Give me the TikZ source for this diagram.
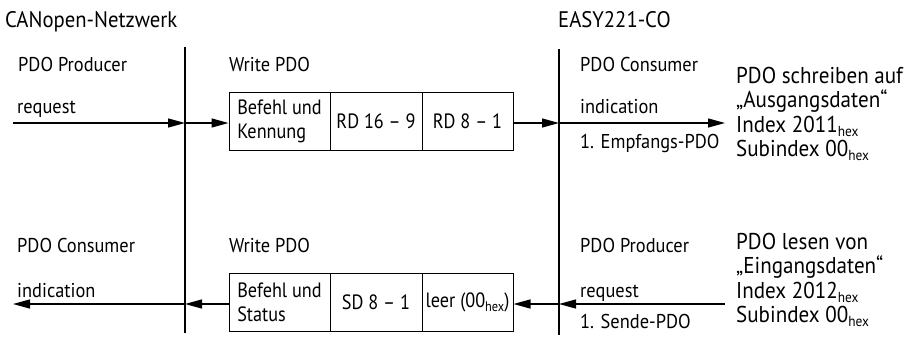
\documentclass[tikz,border=0pt]{standalone}
\usepackage{fontspec}
\setmainfont{PT Sans}
\newfontfamily\condA{PT Sans}[FakeStretch=0.92]
\newfontfamily\condB{PT Sans}[FakeStretch=0.88]
\usetikzlibrary{arrows.meta}
\newcommand\bighex{\raisebox{-4pt}{\fontsize{14.5}{14.5}\selectfont hex}}
\newcommand\boxhex{\raisebox{-3.5pt}{\fontsize{14}{14}\selectfont hex}}
\begin{document}
\begin{tikzpicture}[x=1pt,y=-1pt,
  lbl/.style={anchor=base west, inner sep=0pt, font=\condA\fontsize{20}{22}\selectfont},
  ttl/.style={anchor=base west, inner sep=0pt, font=\condA\fontsize{22.5}{24}\selectfont},
  big/.style={anchor=north west, inner sep=0pt, align=left, font=\condA\fontsize{22.9}{24.3}\selectfont},
  cell/.style={draw, line width=1pt, minimum height=58pt, inner sep=0pt, align=left, font=\condB\fontsize{20.7}{24}\selectfont},
  bus/.style={line width=2pt},
  flow/.style={line width=1.3pt, -{Triangle[length=17pt,width=9pt]}},
]
\useasboundingbox (0,0) rectangle (911,346);

% titles
\node[ttl] (tnet) at (5,27) {CANopen-Netzwerk};
\node[ttl] (tdev) at (558,27) {EASY221-CO};

% bus lines
\coordinate (b1t) at (185,47);
\coordinate (b1b) at (185,333);
\coordinate (b2t) at (559,49);
\coordinate (b2b) at (559,335);
\draw[bus] (b1t) -- (b1b);
\draw[bus] (b2t) -- (b2b);

% upper row labels
\node[lbl] (uprod) at (18,71) {PDO Producer};
\node[lbl] (uwrite) at (229,71) {Write PDO};
\node[lbl] (ucons) at (580,71) {PDO Consumer};
\node[lbl] (ureq) at (17,113) {request};
\node[lbl] (uind) at (580,113) {indication};
\node[lbl] (uemp) at (580,148) {1. Empfangs-PDO};

% upper frame
\node[cell, minimum width=101pt] (c1) at (279.5,121) {Befehl und\\Kennung};
\node[cell, minimum width=92pt] (c2) at (376,121) {RD 16 – 9};
\node[cell, minimum width=91pt] (c3) at (467.5,121) {RD 8 – 1};

\node[big] (utxt) at (736,67) {PDO schreiben auf\\„Ausgangsdaten“\\Index 2011\bighex\\Subindex 00\bighex};

% upper arrows
\coordinate (uin) at (13,123);
\coordinate (u1) at (185,123);
\coordinate (u2) at (559,123);
\coordinate (uout) at (725,123);
\draw[flow] (uin) -- (u1);
\draw[flow] (u1) -- (u1 -| c1.west);
\draw[flow] (u2 -| c3.east) -- (u2);
\draw[flow] (u2) -- (uout);

% lower row labels
\node[lbl] (lcons) at (17,252) {PDO Consumer};
\node[lbl] (lwrite) at (229,252) {Write PDO};
\node[lbl] (lprod) at (580,252) {PDO Producer};
\node[lbl] (lind) at (17,297) {indication};
\node[lbl] (lreq) at (580,297) {request};
\node[lbl] (lsend) at (580,328) {1. Sende-PDO};

% lower frame
\node[cell, minimum width=101pt] (c4) at (279.5,302.5) {Befehl und\\Status};
\node[cell, minimum width=92pt] (c5) at (376,302.5) {SD 8 – 1};
\node[cell, minimum width=91pt] (c6) at (467.5,302.5) {leer (00\boxhex)};

\node[big] (ltxt) at (736,233) {PDO lesen von\\„Eingangsdaten“\\Index 2012\bighex\\Subindex 00\bighex};

% lower arrows
\coordinate (lin) at (725,304);
\coordinate (l2) at (559,304);
\coordinate (l1) at (185,304);
\coordinate (lout) at (13,304);
\draw[flow] (lin) -- (l2);
\draw[flow] (l2) -- (l2 -| c6.east);
\draw[flow] (l1 -| c4.west) -- (l1);
\draw[flow] (l1) -- (lout);
\end{tikzpicture}
\end{document}
